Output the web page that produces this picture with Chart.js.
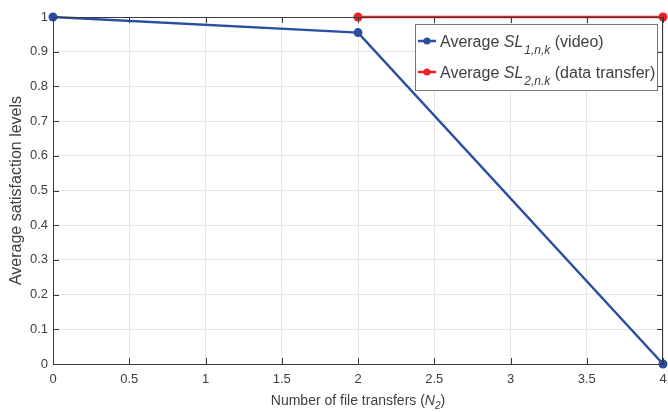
<!DOCTYPE html>
<html>
<head>
<meta charset="utf-8">
<script src="https://cdn.jsdelivr.net/npm/chart.js@4"></script>
<style>
  html, body { margin: 0; padding: 0; background: #fff; }
  #wrap { width: 668px; height: 412px; }
</style>
</head>
<body>
<div id="wrap"><canvas id="grafico" width="668" height="412"></canvas></div>
<script>
// Dados
const transferenciasVideo = [0, 2, 4];
const nivelVideo = [1, 0.955, 0];
const transferenciasDados = [2, 4];
const nivelDados = [1, 1];
const ticksX = [0, 0.5, 1, 1.5, 2, 2.5, 3, 3.5, 4];
const ticksY = [0, 0.1, 0.2, 0.3, 0.4, 0.5, 0.6, 0.7, 0.8, 0.9, 1];

const AZUL = 'rgb(44,78,162)';
const VERMELHO = 'rgb(238,32,36)';
const EIXO = '#3a3a3a';
const TEXTO = '#404040';
const FONTE = '"Liberation Sans", Arial, sans-serif';

// escreve partes de texto em sequência (normal, itálico, subscrito)
function escreverPartes(ctx, partes, x, base) {
  partes.forEach(p => {
    ctx.font = p.font;
    ctx.fillText(p.t, x, base + (p.dy || 0));
    x += ctx.measureText(p.t).width + (p.gap || 0);
  });
}

function larguraPartes(ctx, partes) {
  let w = 0;
  partes.forEach(p => { ctx.font = p.font; w += ctx.measureText(p.t).width + (p.gap || 0); });
  return w;
}

// Caixa (topo/direita), marcas internas, título do eixo x e legenda com subscrito
const pluginMatlab = {
  id: 'matlab',
  afterDatasetsDraw(chart) {
    const { ctx, chartArea: a, scales } = chart;
    ctx.save();
    ctx.strokeStyle = EIXO;
    ctx.lineWidth = 1;
    ctx.beginPath();
    ctx.moveTo(a.left, a.top + 0.5); ctx.lineTo(a.right, a.top + 0.5);
    ctx.moveTo(a.right - 0.5, a.top); ctx.lineTo(a.right - 0.5, a.bottom);
    ticksX.forEach(v => {
      const x = Math.round(scales.x.getPixelForValue(v)) + 0.5;
      ctx.moveTo(x, a.bottom); ctx.lineTo(x, a.bottom - 6);
      ctx.moveTo(x, a.top); ctx.lineTo(x, a.top + 6);
    });
    ticksY.forEach(v => {
      const y = Math.round(scales.y.getPixelForValue(v)) + 0.5;
      ctx.moveTo(a.left, y); ctx.lineTo(a.left + 6, y);
      ctx.moveTo(a.right, y); ctx.lineTo(a.right - 6, y);
    });
    ctx.stroke();
    ctx.restore();
  },
  afterDraw(chart) {
    const { ctx, chartArea: a } = chart;
    ctx.save();
    ctx.textBaseline = 'alphabetic';
    ctx.fillStyle = TEXTO;

    // título do eixo x com N itálico e subscrito
    const tituloX = [
      { t: 'Number of file transfers (', font: '14px ' + FONTE },
      { t: 'N', font: 'italic 14px ' + FONTE },
      { t: '2', font: 'italic 10px ' + FONTE, dy: 4 },
      { t: ')', font: '14px ' + FONTE }
    ];
    const cx = (a.left + a.right) / 2;
    escreverPartes(ctx, tituloX, cx - larguraPartes(ctx, tituloX) / 2, 405);

    // legenda
    const bx = 415.5, by = 24.5, bw = 242, bh = 66;
    ctx.fillStyle = '#fff';
    ctx.fillRect(bx, by, bw, bh);
    ctx.strokeStyle = '#777';
    ctx.lineWidth = 1;
    ctx.strokeRect(bx, by, bw, bh);

    const itens = [
      { cor: AZUL, sub: '1,n,k', fim: ' (video)', y: 41 },
      { cor: VERMELHO, sub: '2,n.k', fim: ' (data transfer)', y: 72 }
    ];
    itens.forEach(it => {
      ctx.strokeStyle = it.cor;
      ctx.lineWidth = 2.5;
      ctx.beginPath();
      ctx.moveTo(418, it.y); ctx.lineTo(436, it.y);
      ctx.stroke();
      ctx.fillStyle = it.cor;
      ctx.beginPath();
      ctx.arc(427, it.y, 3.5, 0, Math.PI * 2);
      ctx.fill();

      ctx.fillStyle = TEXTO;
      escreverPartes(ctx, [
        { t: 'Average ', font: '16px ' + FONTE },
        { t: 'SL', font: 'italic 16px ' + FONTE, gap: 1 },
        { t: it.sub, font: 'italic 12px ' + FONTE, dy: 7 },
        { t: it.fim, font: '16px ' + FONTE }
      ], 440, it.y + 6);
    });
    ctx.restore();
  }
};

new Chart(document.getElementById('grafico'), {
  type: 'line',
  data: {
    datasets: [
      {
        label: 'Average SL1,n,k (video)',
        data: transferenciasVideo.map((x, i) => ({ x, y: nivelVideo[i] })),
        borderColor: AZUL,
        backgroundColor: AZUL,
        borderWidth: 2.5,
        pointStyle: 'circle',
        pointRadius: 4.5,
        pointBorderWidth: 0,
        clip: false
      },
      {
        label: 'Average SL2,n.k (data transfer)',
        data: transferenciasDados.map((x, i) => ({ x, y: nivelDados[i] })),
        borderColor: VERMELHO,
        backgroundColor: VERMELHO,
        borderWidth: 2.5,
        pointStyle: 'circle',
        pointRadius: 4.5,
        pointBorderWidth: 0,
        clip: false
      }
    ]
  },
  options: {
    responsive: false,
    animation: false,
    layout: { padding: { top: 17, right: 5, left: 0, bottom: 0 } },
    plugins: { legend: { display: false }, tooltip: { enabled: false } },
    scales: {
      x: {
        type: 'linear',
        min: 0, max: 4,
        afterBuildTicks: s => { s.ticks = ticksX.map(v => ({ value: v })); },
        afterFit: s => { s.height = 48; s.paddingLeft = 0; s.paddingRight = 0; },
        grid: { color: '#e6e6e6', drawTicks: false },
        border: { color: EIXO, width: 1 },
        ticks: { color: TEXTO, padding: 8, font: { family: FONTE, size: 13 }, maxRotation: 0, callback: v => String(v) },
        title: { display: false }
      },
      y: {
        min: 0, max: 1,
        afterBuildTicks: s => { s.ticks = ticksY.map(v => ({ value: v })); },
        afterFit: s => { s.width = 53; s.paddingTop = 0; s.paddingBottom = 0; },
        grid: { color: '#e6e6e6', drawTicks: false },
        border: { color: EIXO, width: 1 },
        ticks: { color: TEXTO, padding: 5, font: { family: FONTE, size: 13 }, callback: v => String(v) },
        title: {
          display: true,
          text: 'Average satisfaction levels',
          color: TEXTO,
          padding: { top: 7, bottom: 0 },
          font: { family: FONTE, size: 16 }
        }
      }
    }
  },
  plugins: [pluginMatlab]
});
</script>
</body>
</html>
